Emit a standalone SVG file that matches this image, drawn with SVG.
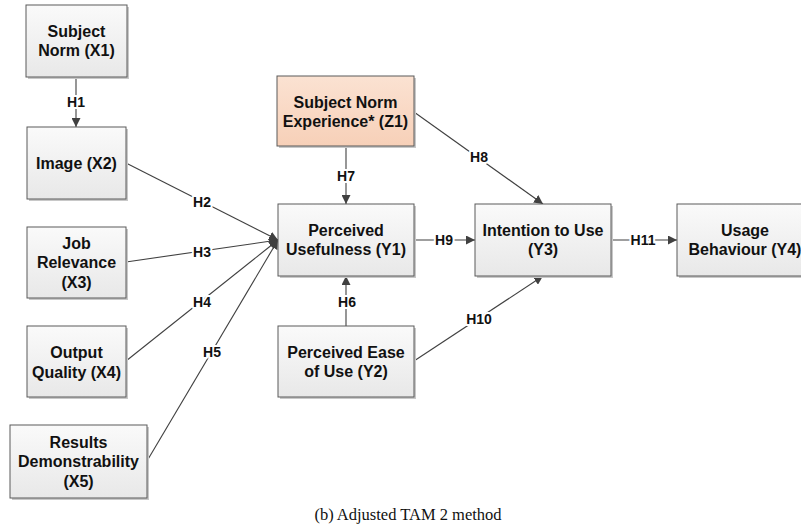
<svg xmlns="http://www.w3.org/2000/svg" width="801" height="529" viewBox="0 0 801 529">
<defs>
<linearGradient id="g" x1="0" y1="0" x2="0" y2="1">
<stop offset="0" stop-color="#fafafa"/>
<stop offset="1" stop-color="#e8e8e8"/>
</linearGradient>
<linearGradient id="gz" x1="0" y1="0" x2="0" y2="1">
<stop offset="0" stop-color="#fbe2d2"/>
<stop offset="1" stop-color="#f7d0b8"/>
</linearGradient>
<marker id="ah" viewBox="0 0 10 10" refX="10" refY="5" markerWidth="9" markerHeight="9" markerUnits="userSpaceOnUse" orient="auto">
<path d="M0,0 L10,5 L0,10 z" fill="#404040"/>
</marker>
</defs>
<style>
.box{fill:url(#g);stroke:#5a5a5a;stroke-width:1}
.boxz{fill:url(#gz);stroke:#5a5a5a;stroke-width:1}
.sh{fill:#c8c8c8}
.t{font-family:"Liberation Sans",Arial,sans-serif;font-weight:bold;font-size:16px;fill:#111;text-anchor:middle}
.c{stroke:#404040;stroke-width:1.1;fill:none;marker-end:url(#ah)}
.l{font-family:"Liberation Sans",Arial,sans-serif;font-weight:bold;font-size:14px;fill:#111;text-anchor:middle;stroke:#fff;stroke-width:4;paint-order:stroke;stroke-linejoin:round}
.cap{font-family:"Liberation Serif","Times New Roman",serif;font-size:16.5px;fill:#111;text-anchor:middle}
</style>
<rect width="801" height="529" fill="#fff"/>

<g id="connectors">
<line class="c" x1="76" y1="77" x2="76" y2="127"/>
<line class="c" x1="126" y1="163" x2="278" y2="240"/>
<line class="c" x1="126" y1="262" x2="278" y2="240"/>
<line class="c" x1="126" y1="361" x2="278" y2="240"/>
<line class="c" x1="147" y1="461" x2="278" y2="240"/>
<line class="c" x1="346" y1="326" x2="346" y2="276"/>
<line class="c" x1="346" y1="146" x2="346" y2="204"/>
<line class="c" x1="414" y1="112" x2="543" y2="204"/>
<line class="c" x1="414" y1="240" x2="475" y2="240"/>
<line class="c" x1="414" y1="361" x2="543" y2="276"/>
<line class="c" x1="611" y1="240" x2="677" y2="240"/>
<text class="l" x="76" y="107">H1</text>
<text class="l" x="202" y="207">H2</text>
<text class="l" x="202" y="257">H3</text>
<text class="l" x="202" y="307">H4</text>
<text class="l" x="212" y="357">H5</text>
<text class="l" x="347" y="307">H6</text>
<text class="l" x="346" y="181">H7</text>
<text class="l" x="479" y="162">H8</text>
<text class="l" x="444" y="245">H9</text>
<text class="l" x="479" y="324">H10</text>
<text class="l" x="643" y="245">H11</text>
</g>

<g id="X1">
<rect class="sh" x="28" y="7" width="101" height="72"/>
<rect class="box" x="26" y="5" width="101" height="72"/>
<text class="t" x="76.5" y="37">Subject</text>
<text class="t" x="76.5" y="56">Norm (X1)</text>
</g>
<g id="X2">
<rect class="sh" x="29" y="129" width="99" height="72"/>
<rect class="box" x="27" y="127" width="99" height="72"/>
<text class="t" x="76.5" y="169">Image (X2)</text>
</g>
<g id="X3">
<rect class="sh" x="29" y="229" width="99" height="71"/>
<rect class="box" x="27" y="227" width="99" height="71"/>
<text class="t" x="76.5" y="249">Job</text>
<text class="t" x="76.5" y="268">Relevance</text>
<text class="t" x="76.5" y="288">(X3)</text>
</g>
<g id="X4">
<rect class="sh" x="29" y="328" width="99" height="71"/>
<rect class="box" x="27" y="326" width="99" height="71"/>
<text class="t" x="76.5" y="358">Output</text>
<text class="t" x="76.5" y="378">Quality (X4)</text>
</g>
<g id="X5">
<rect class="sh" x="12" y="427" width="137" height="73"/>
<rect class="box" x="10" y="425" width="137" height="73"/>
<text class="t" x="78.5" y="448">Results</text>
<text class="t" x="78.5" y="467">Demonstrability</text>
<text class="t" x="78.5" y="487">(X5)</text>
</g>
<g id="Z1">
<rect class="sh" x="279" y="78" width="137" height="70"/>
<rect class="boxz" x="277" y="76" width="137" height="70"/>
<text class="t" x="345.5" y="108">Subject Norm</text>
<text class="t" x="345.5" y="127">Experience* (Z1)</text>
</g>
<g id="Y1">
<rect class="sh" x="280" y="206" width="136" height="72"/>
<rect class="box" x="278" y="204" width="136" height="72"/>
<text class="t" x="346" y="236">Perceived</text>
<text class="t" x="346" y="255">Usefulness (Y1)</text>
</g>
<g id="Y2">
<rect class="sh" x="280" y="328" width="136" height="71"/>
<rect class="box" x="278" y="326" width="136" height="71"/>
<text class="t" x="346" y="358">Perceived Ease</text>
<text class="t" x="346" y="377">of Use (Y2)</text>
</g>
<g id="Y3">
<rect class="sh" x="477" y="206" width="136" height="72"/>
<rect class="box" x="475" y="204" width="136" height="72"/>
<text class="t" x="543" y="236">Intention to Use</text>
<text class="t" x="543" y="255">(Y3)</text>
</g>
<g id="Y4">
<rect class="sh" x="679" y="206" width="136" height="72"/>
<rect class="box" x="677" y="204" width="136" height="72"/>
<text class="t" x="745" y="236">Usage</text>
<text class="t" x="745" y="255">Behaviour (Y4)</text>
</g>

<text class="cap" x="408" y="520">(b) Adjusted TAM 2 method</text>
</svg>
